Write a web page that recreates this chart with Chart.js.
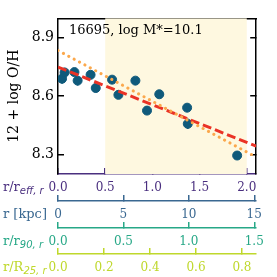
<!DOCTYPE html>
<html>
<head>
<meta charset="utf-8">
<script src="https://cdn.jsdelivr.net/npm/chart.js@4"></script>
<style>
  html, body { margin: 0; padding: 0; background: #fff; }
  #wrap { width: 277px; height: 277px; }
</style>
</head>
<body>
<div id="wrap"><canvas id="c"></canvas></div>
<script>
// ── data ──
const radius = [0.043, 0.07, 0.174, 0.208, 0.345, 0.40, 0.573, 0.64, 0.82, 0.943, 1.073, 1.368, 1.375, 1.898];
const oh     = [8.690, 8.722, 8.724, 8.680, 8.710, 8.642, 8.685, 8.607, 8.680, 8.526, 8.610, 8.541, 8.458, 8.295];
const ohErr  = [0.026, 0.024, 0.015, 0.025, 0.020, 0.022, 0.015, 0.015, 0.012, 0.014, 0.014, 0.020, 0.027, 0.012];

const fitX      = [0, 2.1];
const fitRed    = [8.750, 8.343];
const fitOrange = [8.835, 8.287];
const shadeRange = [0.5, 2.0];

const yTicks    = [8.3, 8.6, 8.9];
const reffTicks = [0, 0.5, 1.0, 1.5, 2.0];
const kpcTicks  = [0, 5, 10, 15];
const r90Ticks  = [0, 0.5, 1.0, 1.5];
const r25Ticks  = [0, 0.2, 0.4, 0.6, 0.8];

const titleText = "16695, log M*=10.1";

// ── styling ──
const SERIF = "'DejaVu Serif', serif";
const PURPLE = "#4a2f7f";
const BLUE = "#3a6891";
const TEAL = "#27a887";
const LIME = "#bfd82c";
const DOT = "#0f5a7b";

function bottomAxis(id, color, min, max, ticks, digits, weight, height) {
  return {
    type: "linear",
    position: "bottom",
    weight: weight,
    min: min,
    max: max,
    afterBuildTicks: s => { s.ticks = ticks.map(v => ({ value: v })); },
    afterFit: s => { s.height = height; },
    ticks: {
      color: color,
      font: { family: SERIF, size: 12 },
      padding: 13,
      maxRotation: 0,
      autoSkip: false,
      callback: v => Number(v).toFixed(digits),
    },
    grid: { drawOnChartArea: false, tickLength: -6, color: color, lineWidth: 1.5 },
    border: { display: true, color: color, width: 1.5 },
  };
}

// shading, error bars, inner title and axis names
const extras = {
  id: "extras",
  beforeDatasetsDraw(chart) {
    const { ctx, chartArea, scales } = chart;
    const x = scales.x, y = scales.y;
    ctx.save();
    const x0 = x.getPixelForValue(shadeRange[0]);
    const x1 = x.getPixelForValue(shadeRange[1]);
    ctx.fillStyle = "#fef8e0";
    ctx.fillRect(x0, chartArea.top, x1 - x0, chartArea.bottom - chartArea.top);
    ctx.strokeStyle = DOT;
    ctx.lineWidth = 1.5;
    radius.forEach((r, i) => {
      const px = x.getPixelForValue(r);
      ctx.beginPath();
      ctx.moveTo(px, y.getPixelForValue(oh[i] - ohErr[i]));
      ctx.lineTo(px, y.getPixelForValue(oh[i] + ohErr[i]));
      ctx.stroke();
    });
    ctx.restore();
  },
  afterDraw(chart) {
    const { ctx, chartArea, scales } = chart;
    ctx.save();
    ctx.fillStyle = "#000";
    ctx.font = "13px " + SERIF;
    ctx.textBaseline = "middle";
    ctx.fillText(titleText, chartArea.left + 11, chartArea.top + 12);

    const names = [
      ["x", "r/r", "eff, r", PURPLE],
      ["x2", "r [kpc]", "", BLUE],
      ["x3", "r/r", "90, r", TEAL],
      ["x4", "r/R", "25, r", LIME],
    ];
    names.forEach(([id, main, sub, color]) => {
      const s = scales[id];
      const yy = s.top + 14;
      ctx.fillStyle = color;
      ctx.font = "13px " + SERIF;
      ctx.fillText(main, 3, yy);
      if (sub) {
        const w = ctx.measureText(main).width;
        ctx.font = "italic 10px 'DejaVu Sans', sans-serif";
        ctx.fillText(sub, 3 + w, yy + 3);
      }
    });
    ctx.restore();
  },
};

new Chart(document.getElementById("c"), {
  type: "scatter",
  data: {
    datasets: [
      {
        type: "line",
        data: fitX.map((v, i) => ({ x: v, y: fitOrange[i] })),
        borderColor: "#fba84c",
        borderWidth: 3,
        borderDash: [0.1, 6],
        borderCapStyle: "round",
        pointRadius: 0,
        order: 0,
      },
      {
        type: "line",
        data: fitX.map((v, i) => ({ x: v, y: fitRed[i] })),
        borderColor: "#ea3326",
        borderWidth: 3,
        borderDash: [9, 4],
        pointRadius: 0,
        order: 0,
      },
      {
        data: radius.map((v, i) => ({ x: v, y: oh[i] })),
        backgroundColor: DOT,
        borderColor: DOT,
        pointRadius: 4.5,
        order: 1,
      },
    ],
  },
  options: {
    responsive: true,
    maintainAspectRatio: false,
    animation: false,
    layout: { padding: { top: 15, left: 0, right: 0, bottom: 0 } },
    plugins: { legend: { display: false }, tooltip: { enabled: false } },
    scales: {
      x: bottomAxis("x", PURPLE, 0, 2.1, reffTicks, 1, 0, 27),
      x2: bottomAxis("x2", BLUE, 0, 15.15, kpcTicks, 0, 1, 27),
      x3: bottomAxis("x3", TEAL, 0, 1.515, r90Ticks, 1, 2, 26),
      x4: bottomAxis("x4", LIME, 0, 0.862, r25Ticks, 1, 3, 23),
      xt: {
        type: "linear",
        position: "top",
        min: 0,
        max: 2.1,
        ticks: { display: false },
        grid: { display: false, drawTicks: false },
        border: { display: true, color: "#000", width: 1.5 },
        afterFit: s => { s.height = 0; },
      },
      y: {
        type: "linear",
        position: "left",
        min: 8.2,
        max: 9.0,
        afterBuildTicks: s => { s.ticks = yTicks.map(v => ({ value: v })); },
        afterFit: s => { s.width = 58; },
        ticks: {
          color: "#000",
          font: { family: SERIF, size: 14 },
          padding: 10,
          callback: v => Number(v).toFixed(1),
        },
        grid: { drawOnChartArea: false, tickLength: -6, color: "#000", lineWidth: 1.5 },
        border: { display: true, color: "#000", width: 1.5 },
        title: {
          display: true,
          text: "12 + log O/H",
          color: "#000",
          font: { family: SERIF, size: 14 },
          padding: { top: 6, bottom: 0 },
        },
      },
      y2: {
        type: "linear",
        position: "right",
        min: 8.2,
        max: 9.0,
        afterBuildTicks: s => { s.ticks = yTicks.map(v => ({ value: v })); },
        afterFit: s => { s.width = 11; },
        ticks: { display: false },
        grid: { drawOnChartArea: false, tickLength: -6, color: "#000", lineWidth: 1.5 },
        border: { display: true, color: "#000", width: 1.5 },
      },
    },
  },
  plugins: [extras],
});
</script>
</body>
</html>
